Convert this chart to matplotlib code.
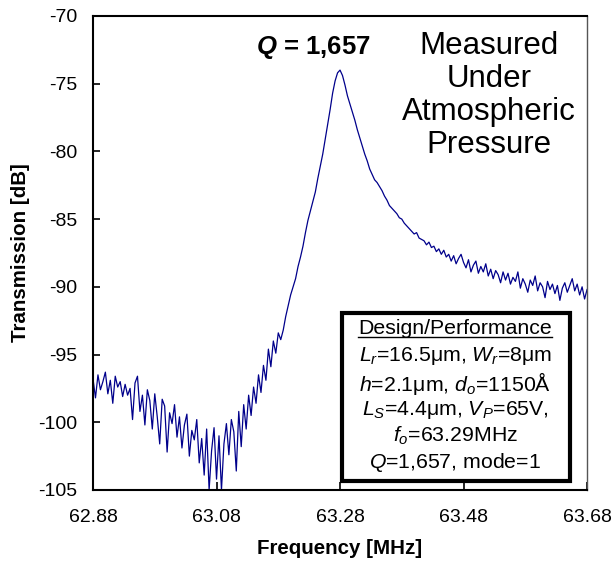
import numpy as np
import matplotlib
matplotlib.use("Agg")
import matplotlib.pyplot as plt
from matplotlib.patches import Rectangle
from matplotlib.lines import Line2D

plt.rcParams['font.family'] = ['Liberation Sans', 'DejaVu Sans']
plt.rcParams['axes.unicode_minus'] = False
plt.rcParams['mathtext.fontset'] = 'custom'
plt.rcParams['mathtext.rm'] = 'Liberation Sans'
plt.rcParams['mathtext.it'] = 'Liberation Sans:italic'
plt.rcParams['mathtext.bf'] = 'Liberation Sans:bold'
plt.rcParams['mathtext.bfit'] = 'Liberation Sans:italic:bold'

# barrido de frecuencia (MHz), paso de 4 kHz
f_inicio = 62.88
f_paso = 0.004

transmision = [
    -96.8, -98.2, -96.5, -97.6, -97.0, -96.3, -97.9, -96.9, -98.6, -96.6, -97.4, -97.0, -98.1,
    -97.2, -98.0, -97.5, -99.8, -97.1, -96.6, -99.2, -98.0, -100.2, -97.6, -98.4,
    -100.5, -97.9, -99.6, -101.6, -98.3, -98.8, -102.2, -99.3, -100.1, -98.7, -101.1,
    -99.6, -101.9, -100.2, -99.4, -102.5, -100.6, -101.3, -99.8, -103.0,
    -101.2, -103.9, -100.5, -105.0, -102.1, -100.4, -104.2, -101.0, -105.0, -101.6,
    -100.1, -102.4, -99.8, -100.7, -103.6, -99.2, -101.8, -98.7,
    -100.5, -98.0, -99.5, -97.4, -98.6, -96.5, -97.8, -95.8,
    -96.9, -94.6, -95.9, -94.0, -94.9, -93.4, -93.9, -93.2,
    -92.2, -91.4, -90.6, -90.0, -89.4, -88.5, -87.8, -87.0, -86.0, -85.1, -84.4,
    -83.7, -83.0, -82.0, -81.1, -80.2, -79.1, -78.0, -76.9, -75.7, -74.8, -74.2,
    -74.0, -74.4, -75.1, -75.9, -76.5, -77.1, -77.7, -78.4, -79.0, -79.6,
    -80.2, -80.7, -81.3, -81.7, -82.1, -82.3, -82.6, -82.9, -83.3, -83.6,
    -84.0, -84.2, -84.4, -84.6, -84.9, -85.0, -85.3, -85.5, -85.7, -85.9,
    -86.1, -86.0, -86.4, -86.5, -86.6, -86.9, -86.7, -87.1, -87.0, -87.4,
    -87.2, -87.6, -87.3, -87.8, -87.6, -88.1, -87.7, -88.3, -87.9, -87.6, -88.2,
    -88.6, -88.0, -88.9, -88.4, -88.1, -89.0, -88.5, -88.9, -88.3, -89.2,
    -88.7, -89.4, -88.8, -89.1, -89.7, -88.9, -89.5, -89.0, -89.8, -89.3,
    -89.6, -88.9, -90.1, -89.4, -89.8, -90.4, -89.5, -89.9, -89.2, -90.3,
    -89.7, -90.0, -90.8, -89.6, -90.2, -89.8, -90.5, -89.9, -91.0, -90.1,
    -89.7, -90.4, -89.9, -89.4, -90.3, -89.8, -90.6, -90.0, -90.9, -90.2,
]
frecuencia = f_inicio + f_paso * np.arange(len(transmision))

xticks = [62.88, 63.08, 63.28, 63.48, 63.68]
yticks = [-105, -100, -95, -90, -85, -80, -75, -70]

lineas_diseno = [
    "$L_r$=16.5μm, $W_r$=8μm",
    "$h$=2.1μm, $d_o$=1150Å",
    "$L_S$=4.4μm, $V_P$=65V,",
    "$f_o$=63.29MHz",
    "$Q$=1,657, mode=1",
]

fig = plt.figure(figsize=(6.16, 5.61), dpi=100)
ax = fig.add_axes([0.151, 0.1266, 0.802, 0.845])

ax.plot(frecuencia, transmision, color='#00008b', lw=0.9)

ax.set_xlim(62.88, 63.68)
ax.set_ylim(-105, -70)
ax.set_xticks(xticks)
ax.set_xticklabels(["%.2f" % t for t in xticks])
ax.set_yticks(yticks)
ax.set_yticklabels([str(t) for t in yticks])
ax.tick_params(axis='x', direction='in', length=6, width=1.2, pad=14, labelsize=14)
ax.tick_params(axis='y', direction='in', length=5, width=1.2, pad=11, labelsize=14)
for lado in ['left', 'bottom', 'top']:
    ax.spines[lado].set_linewidth(1.5)
ax.spines['right'].set_linewidth(1.0)
ax.spines['right'].set_color('#555555')

ax.set_xlabel("Frequency [MHz]", fontsize=14.8, fontweight='bold', labelpad=9)
ax.set_ylabel("Transmission [dB]", fontsize=14.8, fontweight='bold', labelpad=6)

ax.text(63.237, -72.33, "$\\mathbfit{Q}$ = 1,657", fontsize=18.5, fontweight='bold',
        ha='center', va='center')
ax.text(0.802, 0.832, "Measured\nUnder\nAtmospheric\nPressure", transform=ax.transAxes,
        fontsize=22.5, ha='center', va='center', linespacing=1.12)

# recuadro de diseno
ax.add_patch(Rectangle((0.504, 0.019), 0.462, 0.354, transform=ax.transAxes,
                       facecolor='white', edgecolor='black', lw=3, zorder=5))
titulo = ax.text(0.733, 0.340, "Design/Performance", transform=ax.transAxes,
                 fontsize=15.3, ha='center', va='center', zorder=6)
pos_y = [0.282, 0.225, 0.169, 0.114, 0.057]
for texto, y in zip(lineas_diseno, pos_y):
    ax.text(0.733, y, texto, transform=ax.transAxes, fontsize=15.3,
            ha='center', va='center', zorder=6)

# subrayado del titulo
fig.canvas.draw()
bb = titulo.get_window_extent().transformed(fig.transFigure.inverted())
fig.add_artist(Line2D([bb.x0, bb.x1], [bb.y0 + 0.002, bb.y0 + 0.002], color='black',
                      lw=1.0, transform=fig.transFigure, zorder=7))

fig.savefig("out.png", dpi=100)
